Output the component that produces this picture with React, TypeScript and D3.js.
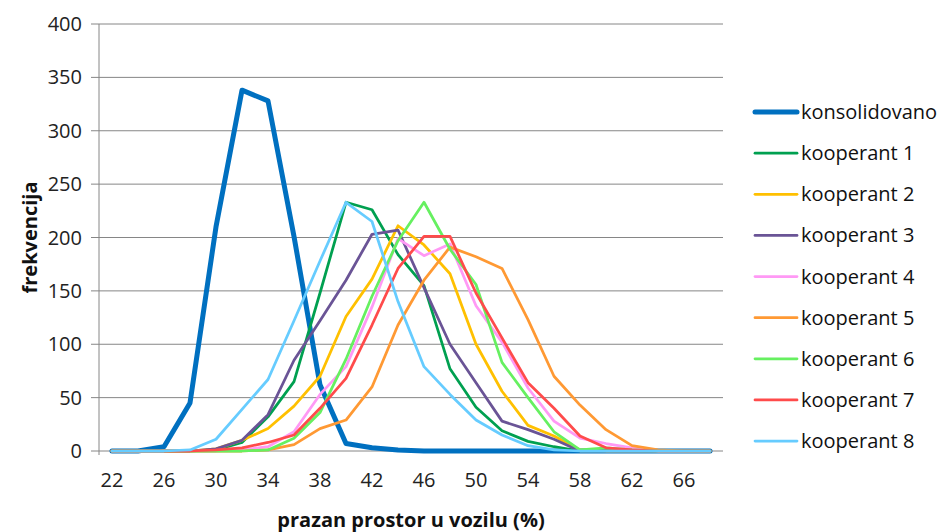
import * as d3 from "d3";

const categories = [22, 24, 26, 28, 30, 32, 34, 36, 38, 40, 42, 44, 46, 48, 50, 52, 54, 56, 58, 60, 62, 64, 66, 68];
const tickLabels = [22, 26, 30, 34, 38, 42, 46, 50, 54, 58, 62, 66];
const yTicks = [0, 50, 100, 150, 200, 250, 300, 350, 400];

const konsolidovano = [0, 0, 4, 45, 210, 338, 328, 201, 62, 7, 3, 1, 0, 0, 0, 0, 0, 0, 0, 0, 0, 0, 0, 0];
const kooperant1 = [0, 0, 0, 0, 1, 8, 32, 65, 148, 233, 226, 184, 155, 77, 41, 19, 9, 4, 0, 0, 0, 0, 0, 0];
const kooperant2 = [0, 0, 0, 0, 2, 10, 21, 42, 70, 126, 161, 211, 193, 166, 100, 56, 24, 14, 1, 0, 0, 0, 0, 0];
const kooperant3 = [0, 0, 0, 0, 2, 10, 34, 85, 122, 160, 203, 207, 153, 100, 64, 28, 20, 11, 0, 0, 0, 0, 0, 0];
const kooperant4 = [0, 0, 0, 0, 0, 1, 4, 18, 53, 79, 135, 199, 183, 194, 136, 102, 59, 28, 12, 7, 3, 0, 0, 0];
const kooperant5 = [0, 0, 0, 0, 0, 0, 1, 6, 21, 29, 60, 118, 160, 191, 182, 171, 123, 70, 43, 20, 5, 1, 0, 0];
const kooperant6 = [0, 0, 0, 0, 0, 0, 1, 12, 36, 86, 145, 197, 233, 189, 156, 83, 50, 18, 1, 3, 1, 0, 0, 0];
const kooperant7 = [0, 0, 0, 0, 1, 3, 8, 15, 40, 68, 118, 171, 201, 201, 148, 106, 64, 40, 14, 3, 1, 0, 0, 0];
const kooperant8 = [0, 0, 0, 1, 11, 39, 67, 122, 178, 233, 215, 140, 79, 53, 29, 15, 5, 1, 0, 0, 0, 0, 0, 0];

const seriesNames = ["konsolidovano", "kooperant 1", "kooperant 2", "kooperant 3", "kooperant 4", "kooperant 5", "kooperant 6", "kooperant 7", "kooperant 8"];
const seriesValues = [konsolidovano, kooperant1, kooperant2, kooperant3, kooperant4, kooperant5, kooperant6, kooperant7, kooperant8];
const seriesColors = ["#0070c0", "#00a050", "#ffc000", "#6a5496", "#ff99f5", "#ff9933", "#66f060", "#ff4b4b", "#66ccff"];

const W = 941;
const H = 532;
const FONT = "'Open Sans', 'Liberation Sans', sans-serif";

export default function App() {
  const m = { l: 99, r: 723, t: 24, b: 451 };

  const x = d3.scalePoint<number>().domain(categories).range([m.l, m.r]).padding(0.5);
  const y = d3.scaleLinear().domain([0, 400]).range([m.b, m.t]);

  const line = d3
    .line<number>()
    .x((_, i) => x(categories[i]) ?? 0)
    .y((d) => y(d));

  const legendY = d3.scalePoint<string>().domain(seriesNames).range([112, 441]);

  return (
    <svg width={W} height={H} style={{ position: "absolute", left: 0, top: 0, background: "#fff" }} fontFamily={FONT}>
      {/* gridlines + y labels */}
      {yTicks.map((t) => (
        <g key={t}>
          <line x1={m.l - 8} x2={m.r} y1={y(t)} y2={y(t)} stroke="#868686" strokeWidth={1} />
          <text x={82} y={y(t)} dy="0.35em" textAnchor="end" fontSize={20} fill="#222">
            {t}
          </text>
        </g>
      ))}
      <line x1={m.l} x2={m.l} y1={m.t} y2={m.b + 4} stroke="#868686" strokeWidth={1} />

      {/* x labels */}
      {tickLabels.map((c) => (
        <text key={c} x={x(c)} y={480} dy="0.35em" textAnchor="middle" fontSize={20} fill="#222">
          {c}
        </text>
      ))}

      {/* series */}
      {seriesValues.map((vals, i) => (
        <path
          key={seriesNames[i]}
          d={line(vals) ?? ""}
          fill="none"
          stroke={seriesColors[i]}
          strokeWidth={i === 0 ? 5 : 2.75}
          strokeLinejoin="round"
          strokeLinecap="round"
        />
      ))}

      {/* axis titles */}
      <text x={(m.l + m.r) / 2} y={520} dy="0.35em" textAnchor="middle" fontSize={20} fontWeight="bold" fill="#111">
        prazan prostor u vozilu (%)
      </text>
      <text
        transform={`translate(30,${(m.t + m.b) / 2}) rotate(-90)`}
        dy="0.35em"
        textAnchor="middle"
        fontSize={20}
        fontWeight="bold"
        fill="#111"
      >
        frekvencija
      </text>

      {/* legend */}
      {seriesNames.map((name, i) => {
        const ly = legendY(name) ?? 0;
        return (
          <g key={name}>
            <line
              x1={755}
              x2={797}
              y1={ly}
              y2={ly}
              stroke={seriesColors[i]}
              strokeWidth={i === 0 ? 5 : 2.75}
              strokeLinecap="round"
            />
            <text x={801} y={ly} dy="0.35em" fontSize={20} fill="#111">
              {name}
            </text>
          </g>
        );
      })}
    </svg>
  );
}
